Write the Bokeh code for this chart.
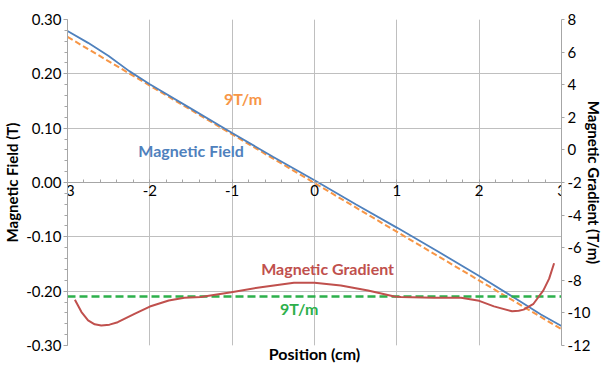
from bokeh.plotting import figure
from bokeh.models import (Range1d, LinearAxis, NumeralTickFormatter, Label, FixedTicker, Grid)
from bokeh.embed import file_html
from bokeh.resources import INLINE

# Magnetic field (T) vs position (cm)
field_x = [-3.0, -2.75, -2.5, -2.25, -2.0, -1.5, -1.0, -0.5, 0.0, 0.5, 1.0, 1.5, 2.0, 2.5, 2.75, 3.0]
field_y = [0.279, 0.257, 0.233, 0.205, 0.181, 0.136, 0.091, 0.047, 0.004, -0.040, -0.083, -0.127,
           -0.172, -0.219, -0.243, -0.264]

# 9 T/m reference line (field)
ref_x = [-3.0, 3.0]
ref_y = [0.268, -0.270]

# Magnetic gradient (T/m)
grad_x = [-2.91, -2.83, -2.75, -2.67, -2.59, -2.49, -2.39, -2.18, -2.0, -1.77, -1.58, -1.38,
          -1.01, -0.65, -0.25, 0.0, 0.32, 0.65, 0.97, 1.05, 1.45, 1.78, 2.0, 2.18, 2.40, 2.48,
          2.54, 2.66, 2.78, 2.85, 2.91]
grad_y = [-9.19, -9.95, -10.46, -10.7, -10.77, -10.72, -10.57, -10.05, -9.61, -9.24, -9.07, -9.03,
          -8.73, -8.42, -8.15, -8.15, -8.32, -8.62, -8.99, -9.03, -9.07, -9.07, -9.26, -9.6, -9.9,
          -9.87, -9.8, -9.44, -8.62, -7.9, -6.95]

# 9 T/m target gradient
target_x = [-3.0, 3.0]
target_g = [-9.0, -9.0]

# ticks
field_ticks = [-0.3, -0.2, -0.1, 0.0, 0.1, 0.2, 0.3]
field_minor = [round(-0.3 + 0.02 * i, 2) for i in range(31)]
grad_ticks = [-12, -10, -8, -6, -4, -2, 0, 2, 4, 6, 8]
pos_ticks = [-3, -2, -1, 0, 1, 2, 3]
pos_minor = [round(-3 + 0.2 * i, 1) for i in range(31)]

BLUE = "#4F81BD"
ORANGE = "#F79646"
RED = "#C0504D"
GREEN = "#2DB04B"
GRID = "#BFBFBF"
AX = "#A6A6A6"
FONT = "Lato"

p = figure(width=606, height=365, output_backend="svg", toolbar_location=None,
           x_range=Range1d(-3, 3), y_range=Range1d(-0.3, 0.3), x_axis_location=None,
           min_border_left=66, min_border_right=10, min_border_top=19, min_border_bottom=10,
           background_fill_color="white", border_fill_color="white")
p.outline_line_color = None
p.extra_y_ranges = {"grad": Range1d(-12, 8)}

# left axis
yl = p.yaxis[0]
yl.ticker = FixedTicker(ticks=field_ticks, minor_ticks=field_minor)
yl.formatter = NumeralTickFormatter(format="0.00")
yl.axis_label = "Magnetic Field (T)"
yl.axis_line_color = AX
yl.major_tick_line_color = AX
yl.minor_tick_line_color = AX
yl.major_tick_in = 0
yl.major_tick_out = 4
yl.minor_tick_in = 0
yl.minor_tick_out = 3
yl.major_label_text_font = FONT
yl.major_label_text_font_size = "15px"
yl.major_label_text_color = "#000000"
yl.major_label_standoff = 2
yl.axis_label_text_font = FONT
yl.axis_label_text_font_style = "bold"
yl.axis_label_text_font_size = "15px"
yl.axis_label_text_color = "#000000"
yl.axis_label_standoff = 2

p.ygrid.grid_line_color = GRID
p.ygrid.ticker = FixedTicker(ticks=field_ticks)

# right axis
yr = LinearAxis(y_range_name="grad", ticker=FixedTicker(ticks=grad_ticks),
                formatter=NumeralTickFormatter(format="0"),
                axis_label="Magnetic Gradient (T/m)")
yr.axis_line_color = AX
yr.major_tick_line_color = AX
yr.major_tick_in = 0
yr.major_tick_out = 3
yr.major_label_text_font = FONT
yr.major_label_text_font_size = "15px"
yr.major_label_text_color = "#000000"
yr.major_label_standoff = 3
yr.axis_label_text_font = FONT
yr.axis_label_text_font_style = "bold"
yr.axis_label_text_font_size = "15px"
yr.axis_label_text_color = "#000000"
yr.axis_label_standoff = -8
p.add_layout(yr, "right")

# x axis drawn at y = 0
xt = FixedTicker(ticks=pos_ticks, minor_ticks=pos_minor)
xa = LinearAxis(fixed_location=0, ticker=xt, formatter=NumeralTickFormatter(format="0"))
xa.axis_line_color = AX
xa.major_tick_line_color = AX
xa.minor_tick_line_color = AX
xa.major_tick_in = 0
xa.major_tick_out = 0
xa.minor_tick_in = 3
xa.minor_tick_out = 0
xa.major_label_text_font = FONT
xa.major_label_text_font_size = "15px"
xa.major_label_text_color = "#000000"
xa.major_label_standoff = 2
p.add_layout(xa, "below")

xl = LinearAxis(ticker=FixedTicker(ticks=[]), axis_label="Position (cm)")
xl.axis_line_color = None
xl.major_tick_line_color = None
xl.minor_tick_line_color = None
xl.major_tick_in = 0
xl.major_tick_out = 0
xl.minor_tick_in = 0
xl.minor_tick_out = 0
xl.major_label_standoff = 0
xl.axis_label_text_font = FONT
xl.axis_label_text_font_style = "bold"
xl.axis_label_text_font_size = "16px"
xl.axis_label_text_color = "#000000"
xl.axis_label_standoff = -2
p.add_layout(xl, "below")

p.add_layout(Grid(dimension=0, ticker=FixedTicker(ticks=pos_ticks), grid_line_color=GRID))

# data
p.line(ref_x, ref_y, line_color=ORANGE, line_width=2, line_dash="6 3")
p.line(field_x, field_y, line_color=BLUE, line_width=1.8)
p.line(target_x, target_g, y_range_name="grad", line_color=GREEN, line_width=2.5, line_dash="8 4")
p.line(grad_x, grad_y, y_range_name="grad", line_color=RED, line_width=2)

def lab(x, y, t, c):
    p.add_layout(Label(x=x, y=y, text=t, text_color=c, text_font=FONT, text_font_style="bold",
                       text_font_size="16px", text_baseline="middle", text_align="left"))

lab(-1.10, 0.154, "9T/m", ORANGE)
lab(-2.14, 0.0586, "Magnetic Field", BLUE)
lab(-0.648, -0.159, "Magnetic Gradient", RED)
lab(-0.418, -0.232, "9T/m", GREEN)

open("out.html", "w").write(file_html(p, INLINE))
